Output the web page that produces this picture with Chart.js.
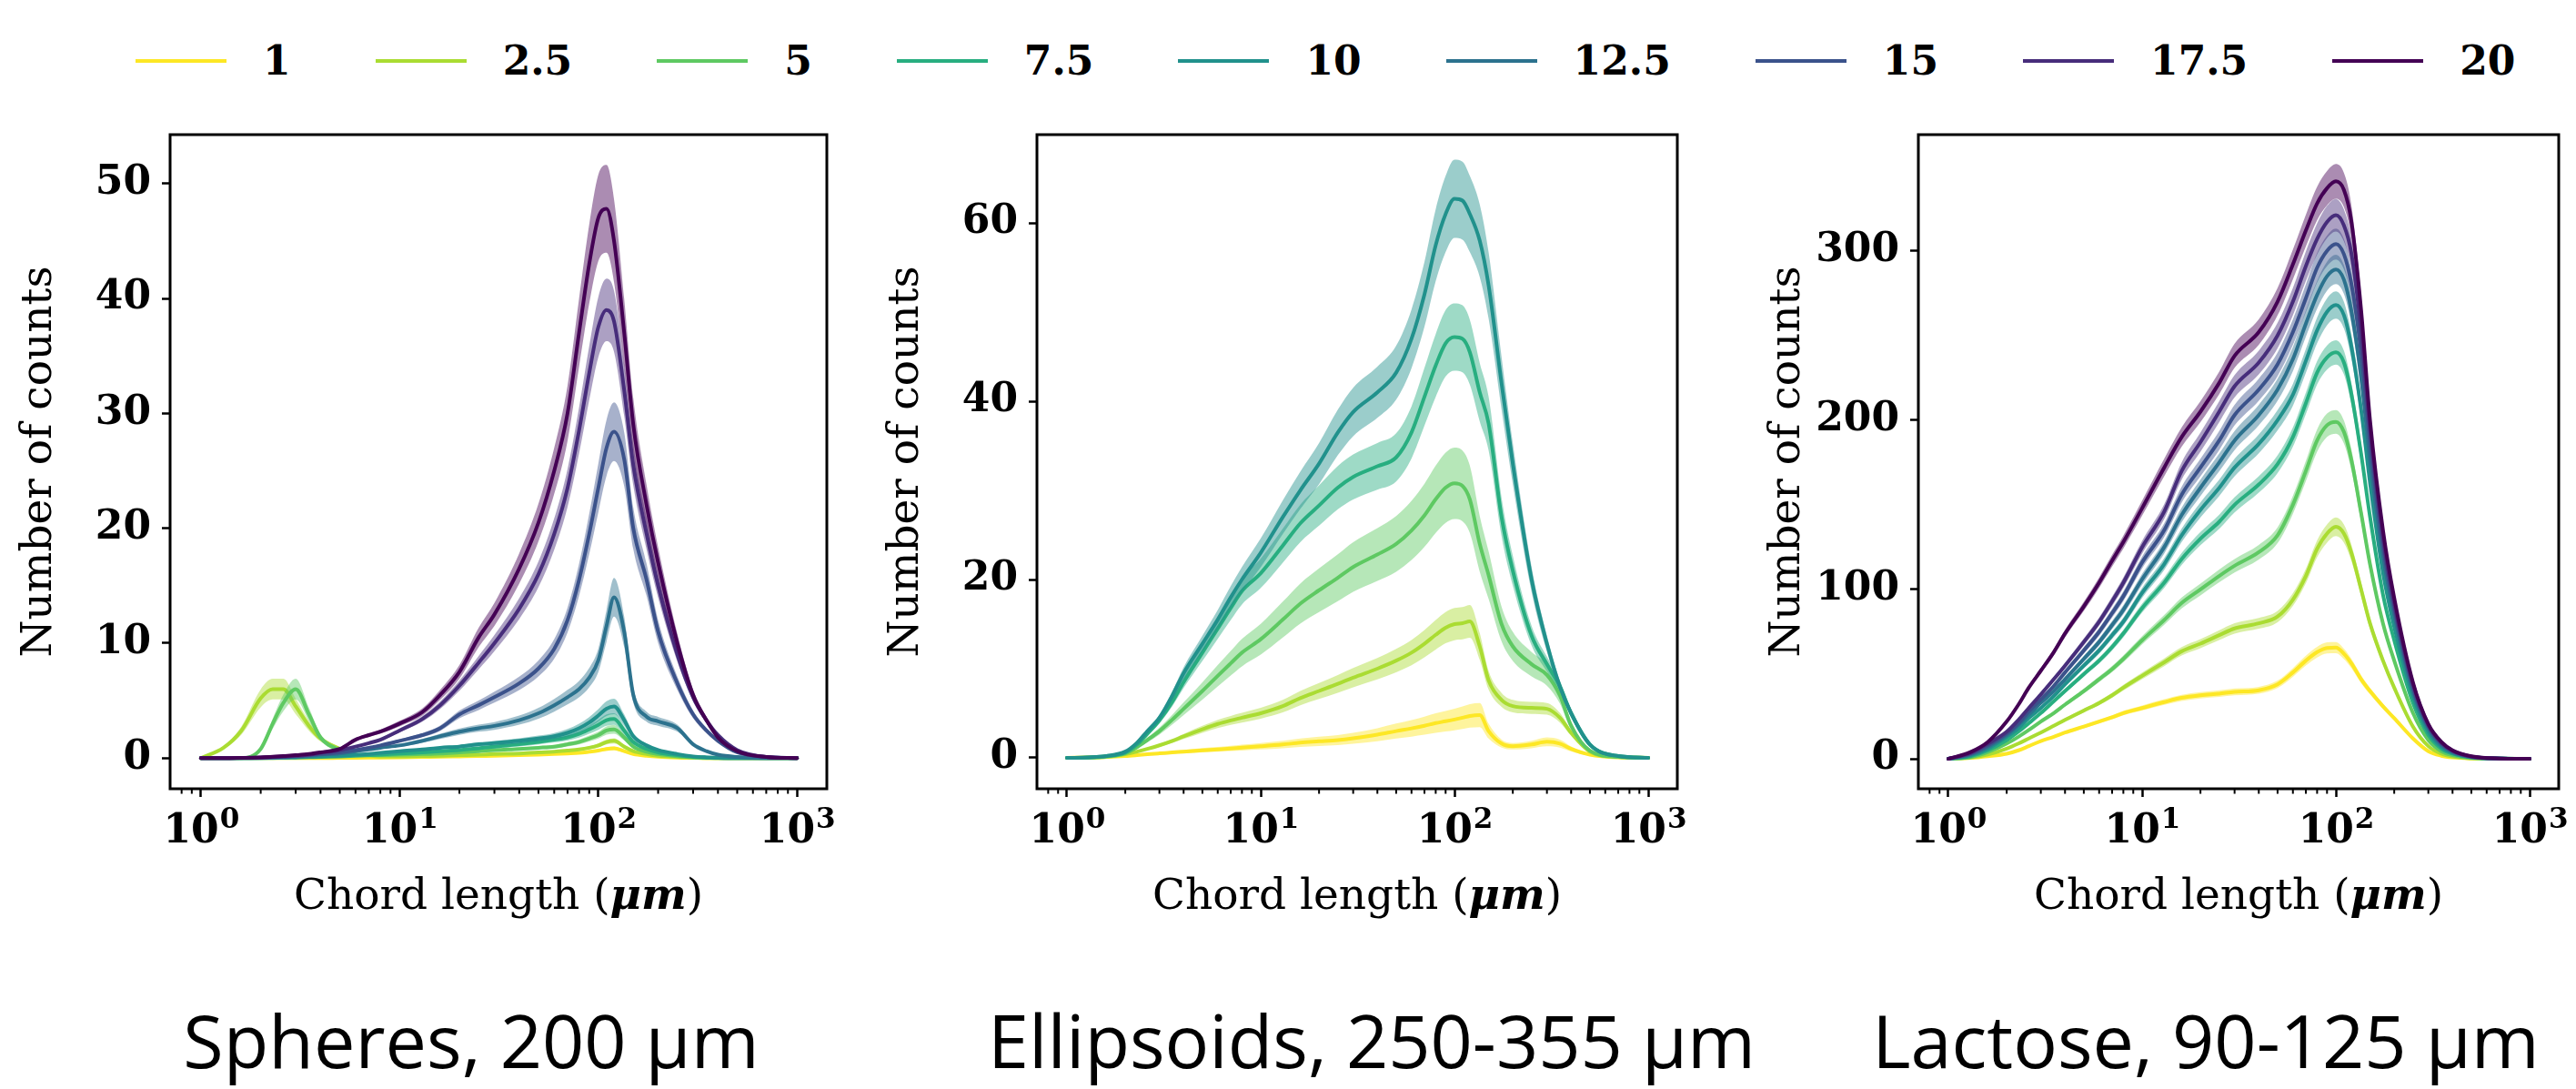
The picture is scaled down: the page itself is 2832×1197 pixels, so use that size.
<!DOCTYPE html>
<html><head><meta charset="utf-8">
<script src="https://cdn.jsdelivr.net/npm/chart.js@4.4.1/dist/chart.umd.min.js"></script>
<style>
html,body{margin:0;padding:0;background:#fff;}
#wrap{position:relative;width:2832px;height:1197px;overflow:hidden;background:#fff;}
canvas{position:absolute;}
#legend{position:absolute;left:149px;top:41px;display:flex;align-items:center;font-family:"DejaVu Serif";font-weight:bold;font-size:44px;line-height:51px;color:#000;white-space:nowrap;}
.item{display:flex;align-items:center;margin-right:93px;}
.swatch{width:100px;height:4px;margin-right:40px;}
.caption{position:absolute;top:1102px;font-family:"Open Sans";font-size:81px;line-height:81px;white-space:nowrap;transform:translateX(-50%);color:#000;}
</style></head>
<body>
<div id="wrap">
  <div id="legend"></div>
  <canvas id="c1" width="960" height="940" style="left:0px;top:100px"></canvas>
  <canvas id="c2" width="955" height="940" style="left:953px;top:100px"></canvas>
  <canvas id="c3" width="910" height="940" style="left:1922px;top:100px"></canvas>
</div>
<script>
// ---------------- DATA ----------------
const chordLength = [1, 1.3, 1.6, 2, 2.3, 2.6, 3, 3.5, 4, 5, 6, 7, 8, 10, 13, 16, 20, 25, 30, 40, 50, 60, 70, 80, 90, 100, 110, 120, 135, 150, 175, 200, 250, 300, 350, 400, 500, 700, 1000];
const legendLabels = ['1', '2.5', '5', '7.5', '10', '12.5', '15', '17.5', '20'];
const seriesColors = ['#fde725', '#aadc32', '#5ec962', '#28ae80', '#21918c', '#2c728e', '#3b528b', '#472d7b', '#440154'];
const xMajorTicks = [1, 10, 100, 1000];
const xTickBase = ['10', '10', '10', '10'];
const xTickExp = ['0', '1', '2', '3'];
const xMinorTicks = [0.8, 0.9, 2, 3, 4, 5, 6, 7, 8, 9, 20, 30, 40, 50, 60, 70, 80, 90, 200, 300, 400, 500, 600, 700, 800, 900];
const captions = ['Spheres, 200 μm', 'Ellipsoids, 250-355 μm', 'Lactose, 90-125 μm'];
const yTitle = 'Number of counts';
const xTitleParts = ['Chord length (', 'μm', ')'];

// Spheres, 200 um
const sph1    = [0,0,0,0,0,0,0,0,0,0.02,0.03,0.04,0.05,0.07,0.1,0.12,0.15,0.18,0.2,0.25,0.3,0.35,0.4,0.45,0.55,0.65,0.8,0.85,0.6,0.35,0.2,0.12,0.05,0.02,0,0,0,0,0];
const sph2_5  = [0,0.9,2.4,5.2,6.0,6.0,4.5,2.8,1.7,0.8,0.3,0.2,0.15,0.15,0.18,0.2,0.25,0.3,0.35,0.4,0.5,0.55,0.65,0.75,0.9,1.1,1.4,1.5,1.0,0.6,0.35,0.2,0.1,0.05,0,0,0,0,0];
const sph5    = [0,0,0,0.8,3.0,4.8,6.0,3.8,1.8,0.7,0.3,0.25,0.25,0.3,0.35,0.4,0.5,0.6,0.7,0.8,0.9,1.0,1.2,1.4,1.7,2.0,2.4,2.5,1.8,1.0,0.55,0.35,0.15,0.07,0.03,0,0,0,0];
const sph7_5  = [0,0,0,0,0,0.02,0.05,0.08,0.1,0.15,0.2,0.25,0.3,0.4,0.5,0.6,0.7,0.85,1.0,1.2,1.4,1.6,1.8,2.1,2.5,2.9,3.3,3.4,2.4,1.4,0.8,0.5,0.25,0.1,0.05,0.02,0,0,0];
const sph10   = [0,0,0,0,0.02,0.04,0.07,0.1,0.15,0.2,0.3,0.35,0.45,0.6,0.75,0.9,1.0,1.2,1.3,1.5,1.7,1.9,2.2,2.6,3.1,3.7,4.3,4.5,3.3,1.9,1.1,0.7,0.35,0.15,0.07,0.03,0,0,0];
const sph12_5 = [0,0,0,0.02,0.05,0.08,0.12,0.2,0.3,0.4,0.6,0.75,0.9,1.1,1.5,1.9,2.3,2.6,2.8,3.3,3.9,4.6,5.3,6.0,7.0,8.5,11.5,14.0,11.0,5.5,3.6,3.2,2.6,1.2,0.6,0.3,0.1,0,0];
const sph15   = [0,0,0.02,0.05,0.08,0.12,0.18,0.25,0.35,0.5,0.7,0.9,1.1,1.5,2.0,2.6,3.8,4.6,5.3,6.5,7.8,9.5,12.0,15.5,19.5,23.5,27.0,28.4,26.0,20.0,15.5,11.0,6.5,3.8,2.4,1.5,0.5,0.1,0];
const sph17_5 = [0,0,0.02,0.05,0.1,0.15,0.2,0.3,0.45,0.7,1.0,1.3,1.6,2.4,3.4,4.6,6.3,8.3,10.0,13.0,16.0,19.5,23.5,28.5,33.5,37.5,39.0,38.0,32.0,25.5,19.5,15.0,9.0,5.3,3.3,2.0,0.7,0.1,0];
const sph20   = [0,0,0.02,0.06,0.12,0.18,0.25,0.35,0.5,0.8,1.6,2.0,2.3,3.0,4.0,5.5,7.5,10.5,12.5,16.5,20.5,25.0,30.0,37.0,43.0,47.0,47.8,45.0,37.0,29.0,22.0,17.0,10.0,5.5,3.3,1.8,0.6,0.1,0];
const sphSpread = [0.2, 0.15, 0.15, 0.15, 0.15, 0.12, 0.09, 0.07, 0.08];

// Ellipsoids, 250-355 um
const ell1    = [0,0.05,0.1,0.2,0.3,0.4,0.5,0.6,0.7,0.85,0.95,1.05,1.15,1.3,1.5,1.7,1.85,2.0,2.2,2.6,3.0,3.3,3.6,3.9,4.1,4.3,4.5,4.7,4.8,3.0,1.6,1.3,1.5,1.8,1.6,1.0,0.35,0.05,0];
const ell2_5  = [0,0.02,0.1,0.4,0.7,1.0,1.4,1.9,2.4,3.2,3.8,4.2,4.5,5.0,5.8,6.7,7.5,8.3,9.0,10.0,10.9,11.8,12.8,13.8,14.6,15.0,15.1,15.3,12.5,8.7,6.5,5.8,5.6,5.5,4.5,2.8,0.7,0.1,0];
const ell5    = [0,0.03,0.15,0.5,1.2,2.0,3.0,4.3,5.5,7.5,9.2,10.6,11.8,13.3,15.5,17.3,18.8,20.2,21.4,22.8,24.0,25.5,27.2,29.0,30.3,30.8,30.5,29.0,24.0,20.5,15.0,12.5,10.5,9.3,7.0,3.6,0.8,0.1,0];
const ell7_5  = [0,0.05,0.2,0.6,1.5,2.7,4.2,6.3,8.5,11.8,14.5,16.8,18.7,20.7,23.8,26.3,28.3,30.3,31.5,32.7,33.7,36.5,40.5,44.0,46.5,47.2,47.0,45.5,41.0,37.5,27.0,21.0,13.7,10.5,8.0,5.0,1.5,0.2,0];
const ell10   = [0,0.05,0.2,0.7,1.7,3.0,4.5,7.0,9.5,12.8,15.5,18.0,20.0,23.0,27.0,30.0,33.0,36.5,38.8,41.0,43.2,47.0,52.0,57.5,61.0,62.7,62.5,61.0,58.0,53.0,42.0,33.0,20.0,12.8,8.0,5.0,1.5,0.2,0];
const ellSpread = [0.28, 0.12, 0.13, 0.08, 0.07, 0, 0, 0, 0];

// Lactose, 90-125 um
const lac1    = [0,0.5,1.5,3,5,7.5,10.5,13,15.5,19,22,24.5,27,30,33.5,36,37.5,38.5,39.5,40.5,44,51,58,63,65.5,65.7,62,56.5,47,40,31,24,12,4.5,1.8,0.8,0.2,0,0];
const lac2_5  = [0,0.7,2.5,6,9,12,15.5,19.5,23,28.5,33,37.5,42,49,57,63.5,68,73,77,80,84,94,108,124,133,137,133,122,100,80,58,42,19,7.5,3,1.3,0.3,0,0];
const lac5    = [0,1,4,9,13,17,22,27,32,40,47,53,59,70,82,92,100,108,114,122,132,150,170,188,197,199,193,177,145,115,80,58,27,11,4.5,2.2,0.5,0.1,0];
const lac7_5  = [0,1.5,5,11,16,21,27,34,40,50,58,66,74,89,104,118,130,140,150,162,174,190,210,228,237,240,234,216,180,143,97,70,33,14,6,3,0.8,0.1,0];
const lac10   = [0,2,6,13,18,24,30,37,44,55,64,73,81,98,115,132,147,160,172,186,200,215,235,253,264,268,262,244,206,163,110,78,37,16,7,3.5,1,0.1,0];
const lac12_5 = [0,2.5,7,14,20,26,33,40,47,59,69,79,88,106,125,144,160,175,188,203,218,236,257,274,285,289,283,265,225,177,120,85,40,18,8,4,1.1,0.2,0];
const lac15   = [0,3,8,15,21,28,35,43,51,64,75,86,96,116,135,156,172,188,203,218,233,252,272,290,300,304,298,281,240,187,126,89,42,19,9,4.5,1.2,0.2,0];
const lac17_5 = [0,3.5,9,16,23,30,38,47,55,69,81,93,104,125,146,170,187,205,220,234,250,270,291,307,317,321,315,299,253,195,131,92,44,20,9.5,4.8,1.3,0.2,0];
const lac20   = [0,4,10,22,32,42,52,63,74,90,104,117,128,148,172,190,205,222,238,252,270,292,312,328,337,341,336,318,265,200,135,95,45,20.5,10,5,1.5,0.2,0];
const lacSpread = [0.05, 0.04, 0.035, 0.03, 0.03, 0.03, 0.03, 0.03, 0.03];

const spheresSeries    = [sph1, sph2_5, sph5, sph7_5, sph10, sph12_5, sph15, sph17_5, sph20];
const ellipsoidsSeries = [ell1, ell2_5, ell5, ell7_5, ell10, null, null, null, null];
const lactoseSeries    = [lac1, lac2_5, lac5, lac7_5, lac10, lac12_5, lac15, lac17_5, lac20];

const spheresYTicks = [0, 10, 20, 30, 40, 50];
const ellipsoidsYTicks = [0, 20, 40, 60];
const lactoseYTicks = [0, 100, 200, 300];

// ---------------- RENDER ----------------
const SERIF = '"DejaVu Serif"';
function rgba(hex, a) {
  const n = parseInt(hex.slice(1), 16);
  return `rgba(${(n >> 16) & 255},${(n >> 8) & 255},${n & 255},${a})`;
}

// legend (HTML)
const legendEl = document.getElementById('legend');
legendLabels.forEach((lab, i) => {
  const it = document.createElement('div'); it.className = 'item';
  if (i === legendLabels.length - 1) it.style.marginRight = '0';
  const sw = document.createElement('div'); sw.className = 'swatch'; sw.style.background = seriesColors[i];
  const tx = document.createElement('span'); tx.textContent = lab;
  it.appendChild(sw); it.appendChild(tx); legendEl.appendChild(it);
});

// captions
const captionCenters = [518, 1508, 2425];
captions.forEach((c, i) => {
  const d = document.createElement('div'); d.className = 'caption';
  d.style.left = captionCenters[i] + 'px'; d.textContent = c;
  document.getElementById('wrap').appendChild(d);
});

const framePlugin = {
  id: 'frame',
  afterDraw(chart) {
    const {ctx, chartArea: a} = chart;
    const xs = chart.scales.x;
    ctx.save();
    ctx.strokeStyle = '#000';
    ctx.lineWidth = 2;
    ctx.beginPath();
    xMinorTicks.forEach(v => {
      const px = xs.getPixelForValue(v);
      ctx.moveTo(px, a.bottom); ctx.lineTo(px, a.bottom + 5.5);
    });
    ctx.stroke();
    ctx.lineWidth = 3;
    ctx.strokeRect(a.left, a.top, a.right - a.left, a.bottom - a.top);
    ctx.fillStyle = '#000'; ctx.textBaseline = 'alphabetic'; ctx.textAlign = 'left';
    // x tick labels: 10 with superscript exponent
    const baseFont = `bold 44px ${SERIF}`, expFont = `bold 31px ${SERIF}`;
    xMajorTicks.forEach((v, i) => {
      const px = xs.getPixelForValue(v);
      ctx.font = baseFont; const wb = ctx.measureText(xTickBase[i]).width;
      ctx.font = expFont; const we = ctx.measureText(xTickExp[i]).width;
      const x0 = px - (wb + we) / 2;
      ctx.font = baseFont; ctx.fillText(xTickBase[i], x0, a.bottom + 59);
      ctx.font = expFont; ctx.fillText(xTickExp[i], x0 + wb + 1, a.bottom + 43);
    });
    // x-axis title with bold italic unit
    const fonts = [`normal 47px ${SERIF}`, `italic bold 47px ${SERIF}`, `normal 47px ${SERIF}`];
    const widths = xTitleParts.map((t, i) => { ctx.font = fonts[i]; return ctx.measureText(t).width; });
    const total = widths.reduce((s, w) => s + w, 0);
    let x0 = (a.left + a.right) / 2 - total / 2;
    const yb = a.bottom + 132;
    xTitleParts.forEach((t, i) => { ctx.font = fonts[i]; ctx.fillText(t, x0, yb); x0 += widths[i]; });
    ctx.restore();
  }
};

function makeChart(id, series, spread, yTicks, yMin, yMax, padRight) {
  const datasets = [];
  series.forEach((vals, i) => {
    if (!vals) return;
    const col = seriesColors[i];
    const base = (series.length - 1 - i) * 3;
    datasets.push({
      label: legendLabels[i] + ' upper',
      data: vals.map((v, k) => ({x: chordLength[k], y: v * (1 + spread[i])})),
      borderWidth: 0, borderColor: 'transparent', backgroundColor: rgba(col, 0.45), fill: '+1', order: base + 2
    });
    datasets.push({
      label: legendLabels[i] + ' lower',
      data: vals.map((v, k) => ({x: chordLength[k], y: v * (1 - spread[i])})),
      borderWidth: 0, borderColor: 'transparent', fill: false, order: base + 2
    });
    datasets.push({
      label: legendLabels[i],
      data: vals.map((v, k) => ({x: chordLength[k], y: v})),
      borderColor: col, borderWidth: 4, fill: false, order: base
    });
  });
  const tickFont = {family: SERIF, weight: 'bold', size: 44};
  const gridOpts = {display: true, drawOnChartArea: false, drawTicks: true, tickLength: 9, tickWidth: 2.5, tickColor: '#000'};
  return new Chart(document.getElementById(id), {
    type: 'line',
    data: {datasets},
    plugins: [framePlugin],
    options: {
      responsive: false, animation: false, devicePixelRatio: 1,
      layout: {padding: {left: 0, right: padRight, top: 48, bottom: 0}},
      plugins: {legend: {display: false}, tooltip: {enabled: false}},
      elements: {point: {radius: 0, hoverRadius: 0}, line: {cubicInterpolationMode: 'monotone', borderJoinStyle: 'round', borderCapStyle: 'round'}},
      scales: {
        x: {
          type: 'logarithmic', min: Math.pow(10, -0.15), max: Math.pow(10, 3.15),
          afterBuildTicks: s => { s.ticks = xMajorTicks.map(v => ({value: v, major: true})); },
          afterFit: s => { s.height = 173; },
          ticks: {display: false},
          grid: gridOpts, border: {display: false}
        },
        y: {
          type: 'linear', min: yMin, max: yMax,
          afterBuildTicks: s => { s.ticks = yTicks.map(v => ({value: v})); },
          afterFit: s => { s.width = 187; },
          ticks: {font: tickFont, color: '#000', padding: 12},
          grid: gridOpts, border: {display: false},
          title: {display: true, text: yTitle, color: '#000', font: {family: SERIF, size: 47, weight: 'normal'}, padding: {top: 16, bottom: 0}}
        }
      }
    }
  });
}

makeChart('c1', spheresSeries, sphSpread, spheresYTicks, -2.67, 54.25, 51);
makeChart('c2', ellipsoidsSeries, ellSpread, ellipsoidsYTicks, -3.47, 69.9, 64);
makeChart('c3', lactoseSeries, lacSpread, lactoseYTicks, -17.7, 368.6, 19);
</script>
</body></html>
